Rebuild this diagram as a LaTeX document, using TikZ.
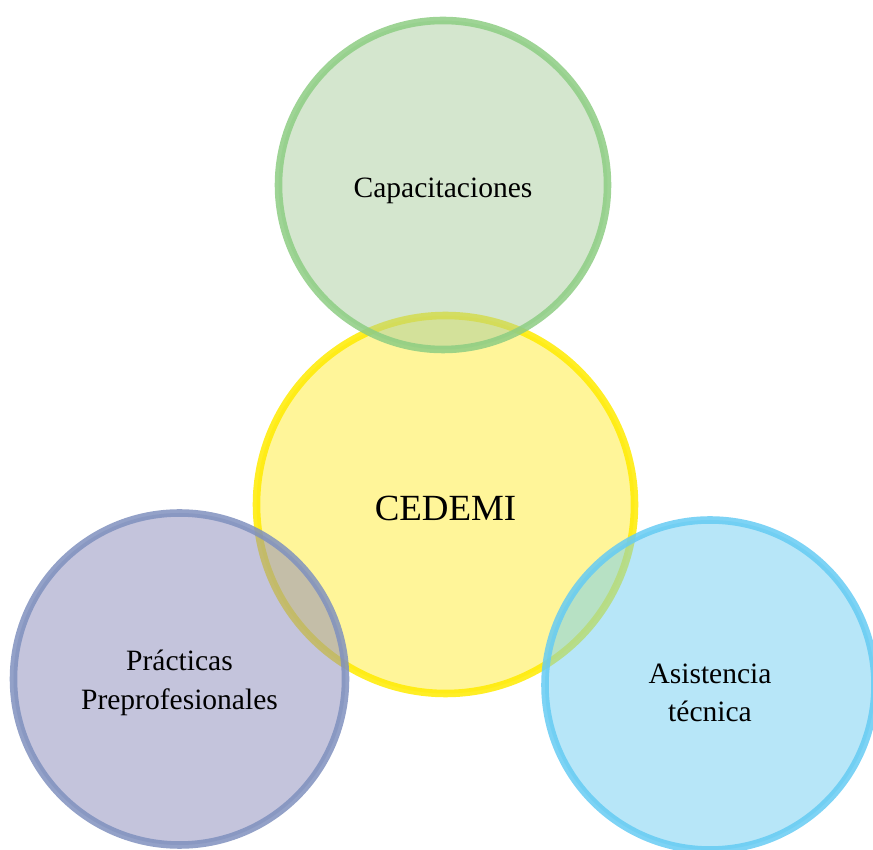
\documentclass[tikz,border=0pt]{standalone}
\usepackage{fontspec}
\setmainfont{Liberation Serif}
\usepackage{tikz}
\usetikzlibrary{shapes,positioning,calc}
\definecolor{capfill}{RGB}{169,205,157}
\definecolor{capline}{RGB}{141,205,131}
\definecolor{cedfill}{RGB}{255,235,51}
\definecolor{cedline}{RGB}{255,235,0}
\definecolor{prafill}{RGB}{137,137,185}
\definecolor{praline}{RGB}{128,145,190}
\definecolor{asifill}{RGB}{111,205,241}
\definecolor{asiline}{RGB}{102,203,243}
\tikzstyle{bubble} = [circle, line width=4.3pt, inner sep=0pt, outer sep=0pt, fill opacity=0.5, draw opacity=0.85]
\tikzstyle{capbubble} = [bubble, draw=capline, fill=capfill, minimum size=6.58cm]
\tikzstyle{cedbubble} = [bubble, draw=cedline, fill=cedfill, minimum size=7.56cm]
\tikzstyle{prabubble} = [bubble, draw=praline, fill=prafill, minimum size=6.64cm]
\tikzstyle{asibubble} = [bubble, draw=asiline, fill=asifill, minimum size=6.6cm]
\tikzstyle{bubbletext} = [align=center, inner sep=0pt, font=\fontsize{16.8}{21.8}\selectfont]
\begin{document}
\begin{tikzpicture}
        \useasboundingbox (0,0) rectangle (17.46,17.0);
        % Circulos
        \node (cedemi) [cedbubble] at (8.91,6.91) {};
        \node (capacit) [capbubble] at (8.86,13.30) {};
        \node (practicas) [prabubble] at (3.59,3.42) {};
        \node (asistencia) [asibubble] at (14.2,3.3) {};

        % Textos
        \node (cedemitxt) [bubbletext, font=\fontsize{21}{25}\selectfont, yshift=-0.08cm] at (cedemi.center) {CEDEMI};
        \node (capacittxt) [bubbletext, yshift=-0.12cm] at (capacit.center) {Capacitaciones};
        \node (practicastxt) [bubbletext, yshift=-0.08cm] at (practicas.center) {Prácticas\\Preprofesionales};
        \node (asistenciatxt) [bubbletext, yshift=-0.16cm] at (asistencia.center) {Asistencia\\técnica};
    \end{tikzpicture}
\end{document}
